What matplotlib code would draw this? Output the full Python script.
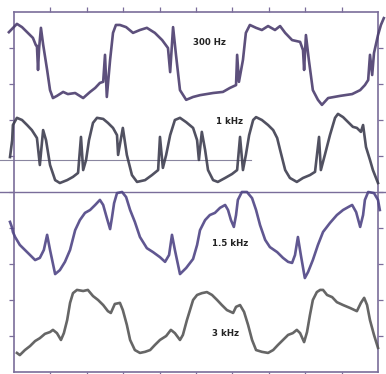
import matplotlib.pyplot as plt

# Scope traces, read in screen divisions (10 x 10 grid)
t_300 = [-0.14, 0.08, 0.22, 0.38, 0.52, 0.60, 0.63, 0.66, 0.69, 0.74, 0.80, 0.91, 0.99, 1.07,
         1.18, 1.35, 1.48, 1.68, 1.90, 2.09, 2.23, 2.36, 2.45, 2.50, 2.55, 2.64, 2.72, 2.80,
         2.91, 3.08, 3.27, 3.46, 3.65, 3.87, 4.07, 4.23, 4.29, 4.37, 4.45, 4.56, 4.73, 4.92,
         5.11, 5.47, 5.74, 5.93, 6.10, 6.13, 6.18, 6.29, 6.37, 6.48, 6.65, 6.81, 6.98, 7.17,
         7.31, 7.45, 7.64, 7.86, 7.94, 7.97, 8.02, 8.10, 8.21, 8.35, 8.46, 8.63, 8.96, 9.29,
         9.51, 9.64, 9.73, 9.78, 9.84, 9.89, 10.00, 10.08, 10.16]
v_300 = [9.44, 9.67, 9.58, 9.42, 9.28, 9.08, 9.06, 8.39, 9.00, 9.56, 9.10, 8.39, 7.83, 7.61,
         7.67, 7.78, 7.72, 7.75, 7.61, 7.78, 7.89, 8.03, 8.06, 8.81, 7.64, 8.67, 9.42, 9.64,
         9.64, 9.58, 9.42, 9.50, 9.56, 9.42, 9.22, 9.00, 8.33, 9.58, 8.81, 7.83, 7.56, 7.64,
         7.69, 7.75, 7.78, 7.89, 7.97, 8.81, 8.06, 8.67, 9.42, 9.64, 9.56, 9.50, 9.61, 9.50,
         9.61, 9.42, 9.22, 9.17, 8.94, 8.39, 9.36, 8.67, 7.83, 7.56, 7.42, 7.61, 7.67, 7.72,
         7.83, 7.97, 8.11, 8.81, 8.25, 8.86, 9.36, 9.64, 9.83]

t_1k = [-0.11, -0.05, -0.03, 0.08, 0.22, 0.36, 0.49, 0.63, 0.71, 0.80, 0.88, 0.99, 1.13, 1.26,
        1.46, 1.62, 1.76, 1.84, 1.90, 1.98, 2.06, 2.17, 2.28, 2.45, 2.58, 2.72, 2.83, 2.86,
        2.99, 3.10, 3.24, 3.38, 3.60, 3.79, 3.96, 4.01, 4.09, 4.18, 4.29, 4.42, 4.56, 4.73,
        4.92, 5.03, 5.08, 5.16, 5.25, 5.33, 5.47, 5.60, 5.80, 5.99, 6.13, 6.21, 6.29, 6.37,
        6.46, 6.57, 6.65, 6.81, 6.98, 7.12, 7.23, 7.31, 7.45, 7.58, 7.77, 7.94, 8.13, 8.27,
        8.38, 8.43, 8.54, 8.68, 8.82, 8.90, 9.04, 9.18, 9.31, 9.42, 9.53, 9.59, 9.67, 9.78,
        9.86, 10.00]
v_1k = [5.97, 6.44, 6.86, 7.06, 7.00, 6.86, 6.72, 6.50, 5.75, 6.72, 6.44, 5.75, 5.33, 5.25,
        5.33, 5.42, 5.53, 6.53, 5.61, 5.89, 6.44, 6.92, 7.06, 7.03, 6.92, 6.78, 6.58, 6.03,
        6.78, 6.03, 5.47, 5.28, 5.33, 5.47, 5.61, 6.53, 5.67, 6.03, 6.58, 7.00, 7.06, 6.94,
        6.78, 6.44, 5.89, 6.67, 6.17, 5.61, 5.33, 5.28, 5.39, 5.50, 5.61, 6.53, 5.61, 6.03,
        6.58, 7.00, 7.08, 7.00, 6.86, 6.72, 6.50, 6.17, 5.61, 5.39, 5.28, 5.39, 5.47, 5.56,
        6.53, 5.61, 6.03, 6.58, 7.06, 7.17, 7.08, 6.94, 6.81, 6.78, 6.67, 6.86, 6.25, 5.89,
        5.61, 5.25]

t_1k5 = [-0.11, -0.05, -0.03, 0.03, 0.16, 0.30, 0.44, 0.58, 0.71, 0.82, 0.91, 0.99, 1.13, 1.26,
         1.40, 1.54, 1.68, 1.81, 1.95, 2.09, 2.23, 2.36, 2.45, 2.55, 2.64, 2.69, 2.75, 2.83,
         2.97, 3.08, 3.19, 3.32, 3.46, 3.65, 3.82, 4.01, 4.15, 4.26, 4.34, 4.42, 4.56, 4.73,
         4.92, 5.03, 5.11, 5.25, 5.38, 5.52, 5.66, 5.80, 5.88, 5.96, 6.04, 6.10, 6.15, 6.26,
         6.40, 6.54, 6.65, 6.76, 6.90, 7.03, 7.23, 7.39, 7.53, 7.64, 7.72, 7.80, 7.88, 7.99,
         8.08, 8.21, 8.35, 8.49, 8.68, 8.87, 9.04, 9.18, 9.29, 9.40, 9.51, 9.59, 9.64, 9.73,
         9.89, 10.00, 10.05]
v_1k5 = [4.17, 4.00, 3.89, 3.75, 3.53, 3.39, 3.25, 3.11, 3.17, 3.39, 3.81, 3.39, 2.72, 2.83,
         3.06, 3.39, 3.94, 4.22, 4.42, 4.50, 4.64, 4.78, 4.64, 4.28, 3.97, 4.28, 4.69, 4.97,
         5.00, 4.86, 4.50, 4.17, 3.75, 3.44, 3.33, 3.19, 3.06, 3.25, 3.81, 3.39, 2.72, 2.89,
         3.14, 3.53, 3.94, 4.22, 4.36, 4.42, 4.56, 4.64, 4.50, 4.22, 4.03, 4.36, 4.78, 5.00,
         5.00, 4.83, 4.50, 4.08, 3.67, 3.47, 3.33, 3.17, 3.06, 3.03, 3.25, 3.75, 3.25, 2.61,
         2.78, 3.11, 3.53, 3.89, 4.14, 4.36, 4.50, 4.58, 4.64, 4.44, 4.03, 4.36, 4.78, 5.00,
         4.97, 4.78, 4.50]

t_3k = [0.08, 0.16, 0.30, 0.44, 0.58, 0.71, 0.85, 0.99, 1.07, 1.18, 1.29, 1.37, 1.46, 1.54,
        1.62, 1.73, 1.90, 2.03, 2.17, 2.31, 2.45, 2.58, 2.66, 2.77, 2.91, 2.99, 3.10, 3.19,
        3.32, 3.46, 3.60, 3.74, 3.87, 4.01, 4.18, 4.31, 4.42, 4.56, 4.64, 4.75, 4.92, 5.03,
        5.16, 5.30, 5.44, 5.58, 5.71, 5.85, 6.02, 6.10, 6.21, 6.32, 6.43, 6.54, 6.65, 6.81,
        6.98, 7.12, 7.25, 7.39, 7.53, 7.66, 7.77, 7.86, 7.97, 8.05, 8.13, 8.21, 8.32, 8.41,
        8.49, 8.60, 8.74, 8.87, 9.04, 9.23, 9.42, 9.53, 9.62, 9.70, 9.78, 9.89, 10.00]
v_3k = [0.53, 0.47, 0.61, 0.72, 0.86, 0.94, 1.06, 1.11, 1.17, 1.08, 0.89, 1.08, 1.44, 1.92,
        2.19, 2.28, 2.25, 2.28, 2.11, 2.00, 1.86, 1.69, 1.64, 1.89, 1.92, 1.72, 1.31, 0.89,
        0.61, 0.53, 0.56, 0.61, 0.75, 0.89, 1.00, 1.17, 1.08, 0.89, 1.03, 1.44, 2.00, 2.14,
        2.19, 2.22, 2.14, 2.00, 1.86, 1.72, 1.64, 1.81, 1.86, 1.67, 1.31, 0.89, 0.61, 0.56,
        0.53, 0.61, 0.75, 0.89, 1.03, 1.08, 1.17, 1.08, 0.83, 1.11, 1.58, 2.00, 2.22, 2.28,
        2.28, 2.14, 2.08, 1.94, 1.86, 1.78, 1.69, 1.92, 2.06, 1.86, 1.44, 1.03, 0.67]

labels = ['300 Hz', '1 kHz', '1.5 kHz', '3 kHz']
label_pos = [(5.36, 9.14), (5.91, 6.97), (5.93, 3.58), (5.82, 1.08)]

frame = '#7a6d9a'
colors = ['#4b3d6e', '#3e3e50', '#4f4585', '#555555']

fig = plt.figure(figsize=(3.86, 3.74), dpi=100)
ax = fig.add_axes([14 / 386, 2 / 374, 364 / 386, 360 / 374])
ax.set_xlim(0, 10)
ax.set_ylim(0, 10)

traces = [(t_300, v_300), (t_1k, v_1k), (t_1k5, v_1k5), (t_3k, v_3k)]
for (t, v), c in zip(traces, colors):
    ax.plot(t, v, color=c, lw=1.9, alpha=0.9, solid_joinstyle='round', clip_on=False, zorder=3)

for text, (x, y) in zip(labels, label_pos):
    ax.text(x, y, text, ha='center', va='center', fontsize=6.2, fontweight='bold',
            color='#222222', zorder=4)

# divider between the two screens, plus the stray line across the upper one
ax.plot([-0.38, 10.22], [5.0, 5.0], color=frame, lw=1.0, clip_on=False, zorder=2)
ax.plot([-0.38, 6.51], [5.89, 5.89], color='#8a86a0', lw=0.8, clip_on=False, zorder=2)

for s in ax.spines.values():
    s.set_color(frame)
    s.set_linewidth(1.2)

ax.set_xticks(range(1, 10))
ax.set_yticks(range(1, 10))
ax.tick_params(axis='both', which='both', direction='out', length=3.5, width=0.9,
               color=frame, top=True, right=True, labelbottom=False, labelleft=False)

fig.savefig('out.png', dpi=100)
